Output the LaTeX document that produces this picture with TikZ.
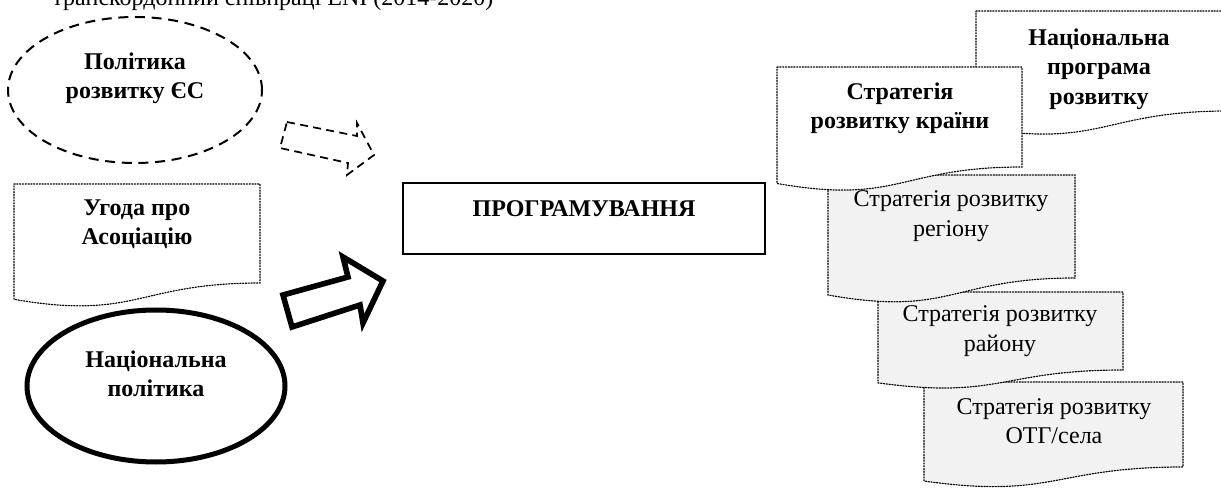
\documentclass[tikz,border=0pt]{standalone}
\usepackage{fontspec}
\setmainfont{Liberation Serif}
\usetikzlibrary{shapes.geometric}

% document shape: x, y (top left), width, height of the straight right side
\newcommand\docshape[5][]{%
  \draw[#1] (#2,#3) -- ({#2+#4},#3) -- ({#2+#4},{#3+#5})
    .. controls ({#2+#4/2},{#3+#5}) and ({#2+#4/2},{#3+1.38*#5}) .. (#2,{#3+1.165*#5}) -- cycle;}

\begin{document}
\begin{tikzpicture}[x=0.75pt,y=-0.75pt]
  \tikzset{every node/.style={font=\fontsize{18}{22}\selectfont,align=center,inner sep=0pt},
    bold/.style={font=\fontsize{18}{22}\selectfont\bfseries},
    doc/.style={draw,line width=0.9pt,dash pattern=on 0.9pt off 1.2pt,line cap=round},
    grey/.style={doc,fill=black!5},
    white/.style={doc,fill=white},
    longdash/.style={line width=1.5pt,dash pattern=on 7.5pt off 5pt},
    shortdash/.style={line width=1.3pt,dash pattern=on 6pt off 4pt}}
  \clip (0,0) rectangle (1221,488);

  % strategies, back to front
  \docshape[white]{976}{11}{252}{100}
  \docshape[grey]{924}{382}{259}{85}
  \docshape[grey]{878}{292}{245}{78}
  \docshape[grey]{828}{175}{247}{103}
  \docshape[white]{777}{67}{245}{100}
  \docshape[white]{14}{184}{246}{99}

  \node[ellipse,draw,longdash,minimum width=190.5pt,minimum height=109.5pt] (eupol) at (135,90) {};
  \node[ellipse,draw,line width=3.75pt,minimum width=193.5pt,minimum height=114pt] (natpol) at (156,386) {};
  \node[draw,line width=1.5pt,minimum width=271.5pt,minimum height=53.25pt] (prog) at (584,218.5) {};

  % arrows
  \draw[shortdash,line join=miter] (287,122) -- (357,136) -- (357,123) -- (374,155)
    -- (347,175) -- (348,163) -- (280,148) -- cycle;
  \draw[line width=4.2pt,line join=miter] (283,295) -- (348,277) -- (343,257) -- (383,281)
    -- (363,323) -- (360,305) -- (292,327) -- cycle;

  % texts
  \node[anchor=base west] (title) at (52,6) {транскордонний співпраці ENI (2014-2020)};
  \node[bold] (eupoltxt) at (135,78) {Політика\\розвитку ЄС};
  \node[bold] (agreetxt) at (137,224) {Угода про\\Асоціацію};
  \node[bold] (natpoltxt) at (156,374) {Національна\\політика};
  \node[bold] (progtxt) at (584,209) {ПРОГРАМУВАННЯ};
  \node[bold] (natprog) at (1099,69) {Національна\\програма\\розвитку};
  \node[bold] (country) at (900,108) {Стратегія\\розвитку країни};
  \node (region) at (951,216) {Стратегія розвитку\\регіону};
  \node (district) at (1000,331) {Стратегія розвитку\\району};
  \node (otg) at (1054,421) {Стратегія розвитку\\ОТГ/села};
\end{tikzpicture}
\end{document}
